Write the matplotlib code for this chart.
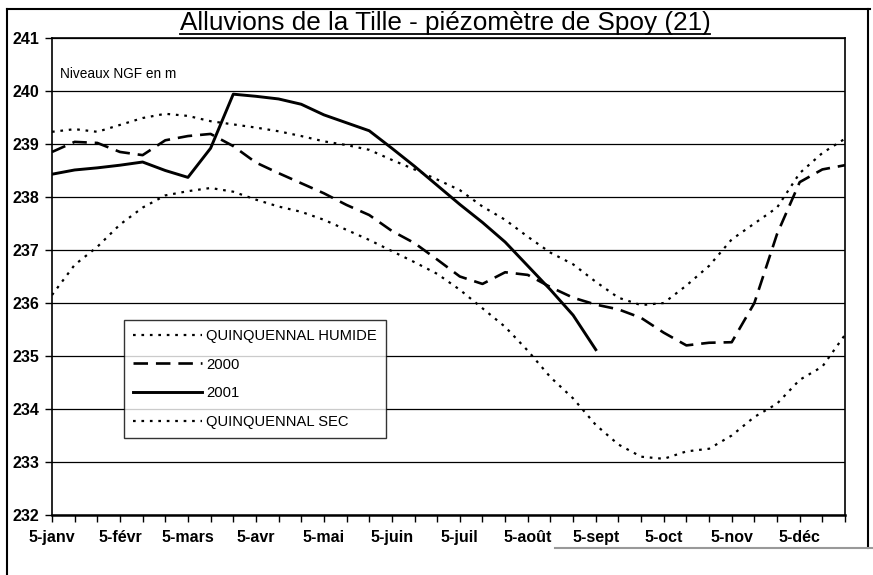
import numpy as np
import matplotlib
matplotlib.use("Agg")
import matplotlib.pyplot as plt
from matplotlib.lines import Line2D

plt.rcParams['font.family'] = ['Liberation Sans', 'DejaVu Sans']

# one value every 10 days (5, 15, 25 of each month)
months = ["janv", "févr", "mars", "avr", "mai", "juin",
          "juil", "août", "sept", "oct", "nov", "déc"]
dates = [f"{d}-{m}" for m in months for d in (5, 15, 25)]

humide = [239.23, 239.28, 239.23, 239.36, 239.49, 239.57, 239.53, 239.43, 239.37,
          239.31, 239.24, 239.15, 239.05, 238.98, 238.89, 238.70, 238.52, 238.33,
          238.13, 237.82, 237.57, 237.25, 236.95, 236.73, 236.40, 236.10, 235.96,
          236.00, 236.33, 236.70, 237.20, 237.50, 237.80, 238.45, 238.83, 239.10]
an2000 = [238.85, 239.04, 239.02, 238.85, 238.79, 239.07, 239.15, 239.19, 238.96,
          238.65, 238.45, 238.26, 238.07, 237.85, 237.66, 237.36, 237.13, 236.82,
          236.50, 236.36, 236.58, 236.53, 236.30, 236.10, 235.97, 235.88, 235.72,
          235.44, 235.20, 235.25, 235.26, 236.00, 237.30, 238.28, 238.52, 238.60]
an2001 = [238.43, 238.51, 238.55, 238.60, 238.66, 238.50, 238.37, 238.92, 239.94,
          239.90, 239.85, 239.75, 239.55, 239.40, 239.25, 238.92, 238.58, 238.22,
          237.86, 237.52, 237.15, 236.70, 236.25, 235.77, 235.12]
sec = [236.15, 236.72, 237.06, 237.48, 237.80, 238.03, 238.11, 238.17, 238.10,
       237.95, 237.82, 237.72, 237.57, 237.38, 237.19, 236.98, 236.77, 236.55,
       236.25, 235.90, 235.55, 235.10, 234.60, 234.20, 233.70, 233.33, 233.10,
       233.06, 233.20, 233.25, 233.50, 233.85, 234.10, 234.55, 234.80, 235.40]

W, H = 873, 575
fig = plt.figure(figsize=(W / 100, H / 100), dpi=100)
ax = fig.add_axes([52 / W, 1 - 515 / H, (845 - 52) / W, (515 - 38) / H])

x = np.arange(len(dates))
ax.plot(x, humide, color="black", lw=1.6, ls=(0, (1.2, 2.6)), label="QUINQUENNAL HUMIDE")
ax.plot(x, an2000, color="black", lw=1.9, ls=(0, (5.5, 3)), label="2000")
ax.plot(np.arange(len(an2001)), an2001, color="black", lw=2.1, label="2001")
ax.plot(x, sec, color="black", lw=1.6, ls=(0, (1.2, 2.6)), label="QUINQUENNAL SEC")

ax.set_xlim(0, len(dates) - 1)
ax.set_ylim(232, 241)
ax.set_yticks(range(232, 242))
ax.set_xticks(x)
ax.set_xticklabels([d if i % 3 == 0 else "" for i, d in enumerate(dates)])
ax.yaxis.grid(True, color="black", lw=0.9)
ax.tick_params(axis="both", direction="out", length=5, width=1, color="black",
               labelsize=11.5, pad=4)
ax.tick_params(axis="x", pad=6)
for lab in ax.get_xticklabels() + ax.get_yticklabels():
    lab.set_fontweight("bold")
for s in ax.spines.values():
    s.set_color("black")
    s.set_linewidth(1.2)
ax.spines["bottom"].set_linewidth(1.8)

ax.text(0.010, 0.925, "Niveaux NGF en m", transform=ax.transAxes, fontsize=9.8,
        va="center", ha="left")

leg = ax.legend(loc="upper left", bbox_to_anchor=((124 - 52) / 793, (515 - 320) / 477),
                borderaxespad=0, frameon=True, fancybox=False, fontsize=10.6,
                handlelength=4.7, handletextpad=0.3, labelspacing=1.0, borderpad=0.6)
leg.get_frame().set_edgecolor("black")
leg.get_frame().set_linewidth(1.0)

title = fig.text(445 / W, 1 - 23 / H, "Alluvions de la Tille - piézomètre de Spoy (21)",
                 ha="center", va="center", fontsize=18.8)

# underline under the title
fig.canvas.draw()
bb = title.get_window_extent()
fig.add_artist(Line2D([bb.x0 / W, bb.x1 / W], [(bb.y0 + 1) / H, (bb.y0 + 1) / H],
                      transform=fig.transFigure, color="black", lw=1.3))

# outer chart frame
frame = [((7, 9), (7, 575)), ((7, 9), (870, 9)), ((868, 9), (868, 548))]
for (x0, y0), (x1, y1) in frame:
    fig.add_artist(Line2D([x0 / W, x1 / W], [1 - y0 / H, 1 - y1 / H],
                          transform=fig.transFigure, color="black", lw=1.5))
fig.add_artist(Line2D([555 / W, 873 / W], [1 - 548 / H, 1 - 548 / H],
                      transform=fig.transFigure, color="0.6", lw=1.5))

fig.savefig("out.png", dpi=100)
